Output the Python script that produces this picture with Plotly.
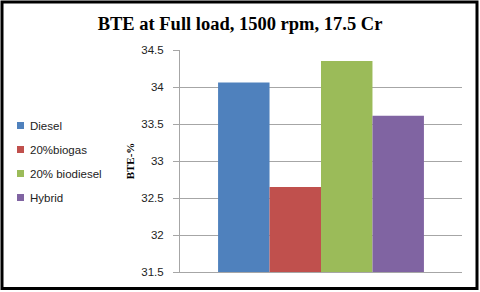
import plotly.graph_objects as go

categories = ["Diesel", "20%biogas", "20% biodiesel", "Hybrid"]
values = [34.06, 32.65, 34.35, 33.61]
colors = ["#4F81BD", "#C0504D", "#9BBB59", "#8064A2"]
y_ticks = [31.5, 32, 32.5, 33, 33.5, 34, 34.5]
y_tick_labels = ["31.5", "32", "32.5", "33", "33.5", "34", "34.5"]

W, H = 480, 292
L, R, T, B = 180, 18, 50, 20
pw, ph = W - L - R, H - T - B

def px_x(x):
    return (x - L) / pw

def px_y(y):
    return (H - B - y) / ph

fig = go.Figure()
for name, v, c in zip(categories, values, colors):
    fig.add_trace(go.Bar(x=["BTE"], y=[v], name=name, marker=dict(color=c, line=dict(width=0)),
                         showlegend=False))

# Legend drawn as swatches + text at the left, like the original
shapes = []
annotations = []
leg_top, leg_step = 125.5, 24
for i, (name, c) in enumerate(zip(categories, colors)):
    cy = leg_top + i * leg_step
    shapes.append(dict(type="rect", xref="paper", yref="paper",
                       x0=px_x(17), x1=px_x(24), y0=px_y(cy + 3.5), y1=px_y(cy - 3.5),
                       fillcolor=c, line=dict(width=0)))
    annotations.append(dict(xref="paper", yref="paper", x=px_x(27.5), y=px_y(cy),
                            xanchor="left", yanchor="middle", showarrow=False, text=name,
                            font=dict(family="Liberation Sans", size=11.5, color="#222222")))

grey = "#A6A6A6"
shapes.append(dict(type="rect", xref="paper", yref="paper",
                   x0=px_x(2), x1=px_x(477), y0=px_y(288.5), y1=px_y(2),
                   line=dict(color="black", width=3), fillcolor="rgba(0,0,0,0)", layer="above"))

fig.update_layout(
    width=W, height=H,
    margin=dict(l=L, r=R, t=T, b=B, pad=0, autoexpand=False),
    paper_bgcolor="white", plot_bgcolor="white",
    showlegend=False,
    barmode="group", bargap=0.27, bargroupgap=0,
    title=dict(text="<b>BTE at Full load, 1500 rpm, 17.5 Cr</b>",
               font=dict(family="Liberation Serif", size=18.5, color="black"),
               x=0.5, xanchor="center", y=1 - 24 / H, yanchor="middle"),
    font=dict(family="Liberation Sans", size=11.5, color="#222222"),
    xaxis=dict(showticklabels=False, showline=True, linecolor=grey, linewidth=1,
               ticks="", showgrid=False, zeroline=False),
    yaxis=dict(range=[31.5, 34.5], tickvals=y_ticks, ticktext=y_tick_labels,
               showgrid=True, gridcolor=grey, gridwidth=1,
               showline=True, linecolor=grey, linewidth=1,
               ticks="outside", ticklen=6, tickcolor=grey, zeroline=False,
               ticklabelstandoff=7,
               title=dict(text="<b>BTE-%</b>", standoff=4,
                          font=dict(family="Liberation Serif", size=11, color="black"))),
    shapes=shapes,
    annotations=annotations,
)

fig.write_html("out.html", config={"displayModeBar": False},
               post_script="document.body.style.margin='0';")
